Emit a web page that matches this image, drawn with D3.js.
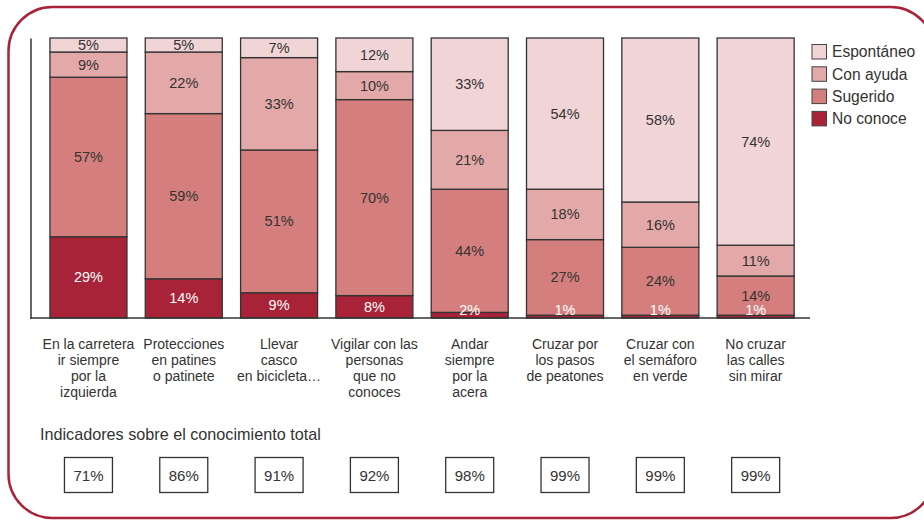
<!DOCTYPE html>
<html lang="es">
<head>
<meta charset="utf-8">
<script src="https://cdn.jsdelivr.net/npm/d3@7/dist/d3.min.js"></script>
<style>
  html, body { margin: 0; padding: 0; background: #fff; }
  svg { display: block; font-family: "Liberation Sans", Arial, Helvetica, sans-serif; }
</style>
</head>
<body>
<svg id="chart" width="924" height="520"></svg>
<script>
// Conocimiento de normas de seguridad vial (% por tipo de respuesta)
const categorias = [
  ["En la carretera", "ir siempre", "por la", "izquierda"],
  ["Protecciones", "en patines", "o patinete"],
  ["Llevar", "casco", "en bicicleta…"],
  ["Vigilar con las", "personas", "que no", "conoces"],
  ["Andar", "siempre", "por la", "acera"],
  ["Cruzar por", "los pasos", "de peatones"],
  ["Cruzar con", "el semáforo", "en verde"],
  ["No cruzar", "las calles", "sin mirar"]
];
const noConoce   = [29, 14, 9, 8, 2, 1, 1, 1];
const sugerido   = [57, 59, 51, 70, 44, 27, 24, 14];
const conAyuda   = [9, 22, 33, 10, 21, 18, 16, 11];
const espontaneo = [5, 5, 7, 12, 33, 54, 58, 74];
const conocimientoTotal = [71, 86, 91, 92, 98, 99, 99, 99];

const serieNombres = ["No conoce", "Sugerido", "Con ayuda", "Espontáneo"];
const serieColores = ["#a82337", "#d47f7d", "#e3a9a9", "#f0d4d6"];
const tituloIndicadores = "Indicadores sobre el conocimiento total";

const svg = d3.select("#chart");
const textColor = "#333";

// Marco redondeado
svg.append("rect")
  .attr("x", 8.5).attr("y", 7)
  .attr("width", 926).attr("height", 511)
  .attr("rx", 44).attr("ry", 44)
  .attr("fill", "none")
  .attr("stroke", "#a82337")
  .attr("stroke-width", 2.5);

const filas = categorias.map((c, i) => ({
  id: i,
  "No conoce": noConoce[i],
  "Sugerido": sugerido[i],
  "Con ayuda": conAyuda[i],
  "Espontáneo": espontaneo[i]
}));

const x = d3.scaleBand()
  .domain(filas.map(d => d.id))
  .range([40.8, 803.3])
  .paddingInner(0.192)
  .paddingOuter(0.096);

const y = d3.scaleLinear().domain([0, 1]).range([318, 38]);

const color = d3.scaleOrdinal().domain(serieNombres).range(serieColores);

const stack = d3.stack()
  .keys(serieNombres)
  .offset(d3.stackOffsetExpand);
const series = stack(filas);
const segmentos = series.flatMap(s => s.map(p => ({ key: s.key, y0: p[0], y1: p[1], data: p.data })));

// Barras apiladas
svg.append("g")
  .selectAll("rect")
  .data(segmentos)
  .join("rect")
  .attr("x", d => x(d.data.id))
  .attr("y", d => y(d.y1))
  .attr("width", x.bandwidth())
  .attr("height", d => y(d.y0) - y(d.y1))
  .attr("fill", d => color(d.key))
  .attr("stroke", "#333")
  .attr("stroke-width", 1.3);

// Etiquetas de valor (encima de todas las barras)
svg.append("g")
  .selectAll("text")
  .data(segmentos)
  .join("text")
  .attr("x", d => x(d.data.id) + x.bandwidth() / 2)
  .attr("y", d => Math.min((y(d.y0) + y(d.y1)) / 2 + 5, 315))
  .attr("text-anchor", "middle")
  .attr("font-size", 14.5)
  .attr("fill", d => d.key === "No conoce" ? "#fff" : textColor)
  .text(d => d.data[d.key] + "%");

// Ejes
svg.append("g")
  .attr("transform", "translate(30.5,0)")
  .call(d3.axisLeft(y).ticks(0).tickSizeOuter(0))
  .call(s => s.select(".domain").attr("stroke", "#333").attr("stroke-width", 1.5));

svg.append("line")
  .attr("x1", 30).attr("x2", 810)
  .attr("y1", y(0)).attr("y2", y(0))
  .attr("stroke", "#333").attr("stroke-width", 1.5);

// Etiquetas de categoría
const etiquetas = svg.append("g")
  .selectAll("text")
  .data(categorias)
  .join("text")
  .attr("text-anchor", "middle")
  .attr("font-size", 14)
  .attr("fill", textColor)
  .attr("transform", (d, i) => `translate(${x(i) + x.bandwidth() / 2},349)`);
etiquetas.selectAll("tspan")
  .data(d => d)
  .join("tspan")
  .attr("x", 0)
  .attr("y", (d, j) => j * 16)
  .text(d => d);

// Leyenda
const leyenda = svg.append("g")
  .attr("transform", "translate(812,44.5)");
const itemsLeyenda = leyenda.selectAll("g")
  .data(serieNombres.slice().reverse())
  .join("g")
  .attr("transform", (d, i) => `translate(0,${i * 22.3})`);
itemsLeyenda.append("rect")
  .attr("width", 14.5).attr("height", 14.5)
  .attr("fill", d => color(d))
  .attr("stroke", "#444").attr("stroke-width", 1);
itemsLeyenda.append("text")
  .attr("x", 20).attr("y", 12.8)
  .attr("font-size", 15.6)
  .attr("fill", textColor)
  .text(d => d);

// Indicadores de conocimiento total
svg.append("text")
  .attr("x", 40).attr("y", 440)
  .attr("font-size", 16.2)
  .attr("fill", textColor)
  .text(tituloIndicadores);

const cajas = svg.append("g")
  .selectAll("g")
  .data(conocimientoTotal)
  .join("g")
  .attr("transform", (d, i) => `translate(${x(i) + x.bandwidth() / 2},457.5)`);
cajas.append("rect")
  .attr("x", -24).attr("width", 48).attr("height", 35)
  .attr("fill", "#fff")
  .attr("stroke", "#333").attr("stroke-width", 1.3);
cajas.append("text")
  .attr("y", 23)
  .attr("text-anchor", "middle")
  .attr("font-size", 15)
  .attr("fill", textColor)
  .text(d => d + "%");
</script>
</body>
</html>
